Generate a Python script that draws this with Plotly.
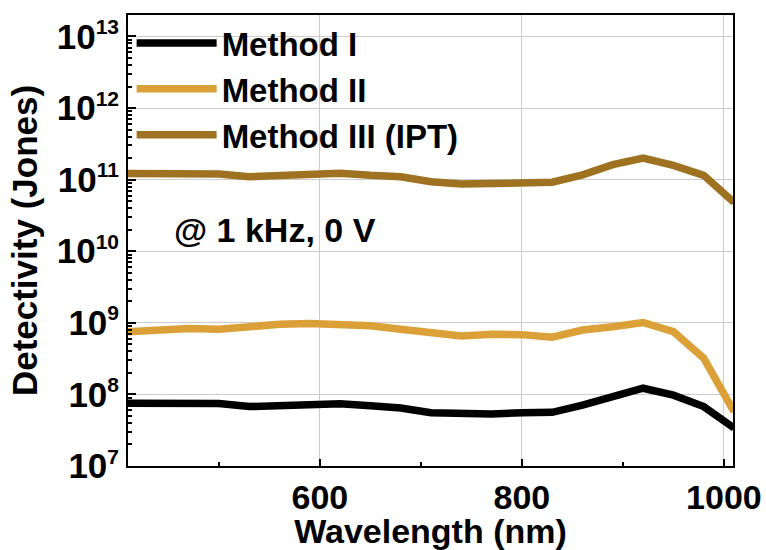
import plotly.graph_objects as go

wavelength = [410, 440, 470, 500, 530, 560, 590, 620, 650, 680, 710,
              740, 770, 800, 830, 860, 890, 920, 950, 980, 1010]
method_1 = [7.52e7, 7.59e7, 7.55e7, 7.45e7, 6.76e7, 6.92e7, 7.33e7, 7.41e7, 6.92e7, 6.46e7, 5.56e7,
            5.32e7, 5.32e7, 5.56e7, 5.62e7, 7.08e7, 9.33e7, 1.22e8, 9.77e7, 6.76e7, 3.39e7]
method_2 = [7.52e8, 7.94e8, 8.32e8, 8.13e8, 9.02e8, 9.55e8, 9.77e8, 9.55e8, 9.12e8, 8.13e8, 7.08e8,
            6.53e8, 6.92e8, 6.84e8, 6.31e8, 7.94e8, 8.81e8, 1.01e9, 7.52e8, 3.20e8, 5.75e7]
method_3 = [1.22e11, 1.23e11, 1.23e11, 1.20e11, 1.10e11, 1.15e11, 1.22e11, 1.23e11, 1.15e11, 1.10e11, 9.33e10,
            8.71e10, 8.81e10, 9.12e10, 9.23e10, 1.17e11, 1.62e11, 2.00e11, 1.58e11, 1.15e11, 4.79e10]

series_names = ["Method I", "Method II", "Method III (IPT)"]
series_colors = ["#000000", "#DBA038", "#9E7220"]
x_ticks = [600, 800, 1000]
y_exponents = [7, 8, 9, 10, 11, 12, 13]
note_text = "@ 1 kHz, 0 V"

FONT = "Liberation Sans, Arial, sans-serif"

fig = go.Figure()
for name, ys, col in zip(series_names, [method_1, method_2, method_3], series_colors):
    fig.add_trace(go.Scatter(x=wavelength, y=ys, mode="lines", name=name,
                             line=dict(color=col, width=7.5)))

fig.update_layout(
    width=766, height=550,
    margin=dict(l=128, r=33, t=15, b=84, autoexpand=False),
    paper_bgcolor="white", plot_bgcolor="white",
    font=dict(family=FONT, size=33, color="black", weight="bold"),
    showlegend=True,
    legend=dict(x=0.006, y=1.0, xanchor="left", yanchor="top",
                bgcolor="rgba(0,0,0,0)", font=dict(size=33, weight="bold"),
                itemwidth=80, tracegroupgap=0),
    annotations=[dict(text=note_text, xref="paper", yref="paper", x=0.073, y=0.524,
                      xanchor="left", yanchor="middle", showarrow=False,
                      font=dict(size=34, family=FONT, weight="bold", color="black"))],
)

fig.update_xaxes(
    range=[410, 1009], tickvals=x_ticks, ticktext=[str(v) for v in x_ticks],
    ticks="inside", ticklen=7, tickwidth=1.5, tickcolor="black",
    minor=dict(ticks="inside", ticklen=4, dtick=100, tick0=0, tickcolor="black", showgrid=False),
    showline=True, linewidth=2, linecolor="black", mirror=True,
    showgrid=True, gridcolor="#cccccc", gridwidth=1,
    tickfont=dict(size=34, family=FONT, weight="bold"),
    title=dict(text="Wavelength (nm)", font=dict(size=34, family=FONT, weight="bold"), standoff=4),
    zeroline=False, automargin=False,
)
fig.update_yaxes(
    type="log", range=[7, 13.3],
    tickmode="array", tickvals=[10.0 ** e for e in y_exponents],
    ticktext=["10<sup><span style='font-size:21px'>%d</span></sup>" % e for e in y_exponents],
    ticks="inside", ticklen=8, tickwidth=1.5, tickcolor="black",
    minor=dict(ticks="inside", ticklen=4, dtick="D1", tickcolor="black", showgrid=False),
    showline=True, linewidth=2, linecolor="black", mirror=True,
    showgrid=True, gridcolor="#cccccc", gridwidth=1,
    tickfont=dict(size=35, family=FONT, weight="bold"),
    title=dict(text="Detectivity (Jones)", font=dict(size=35, family=FONT, weight="bold"), standoff=8),
    zeroline=False, automargin=False,
)

fig.write_html("out.html")
